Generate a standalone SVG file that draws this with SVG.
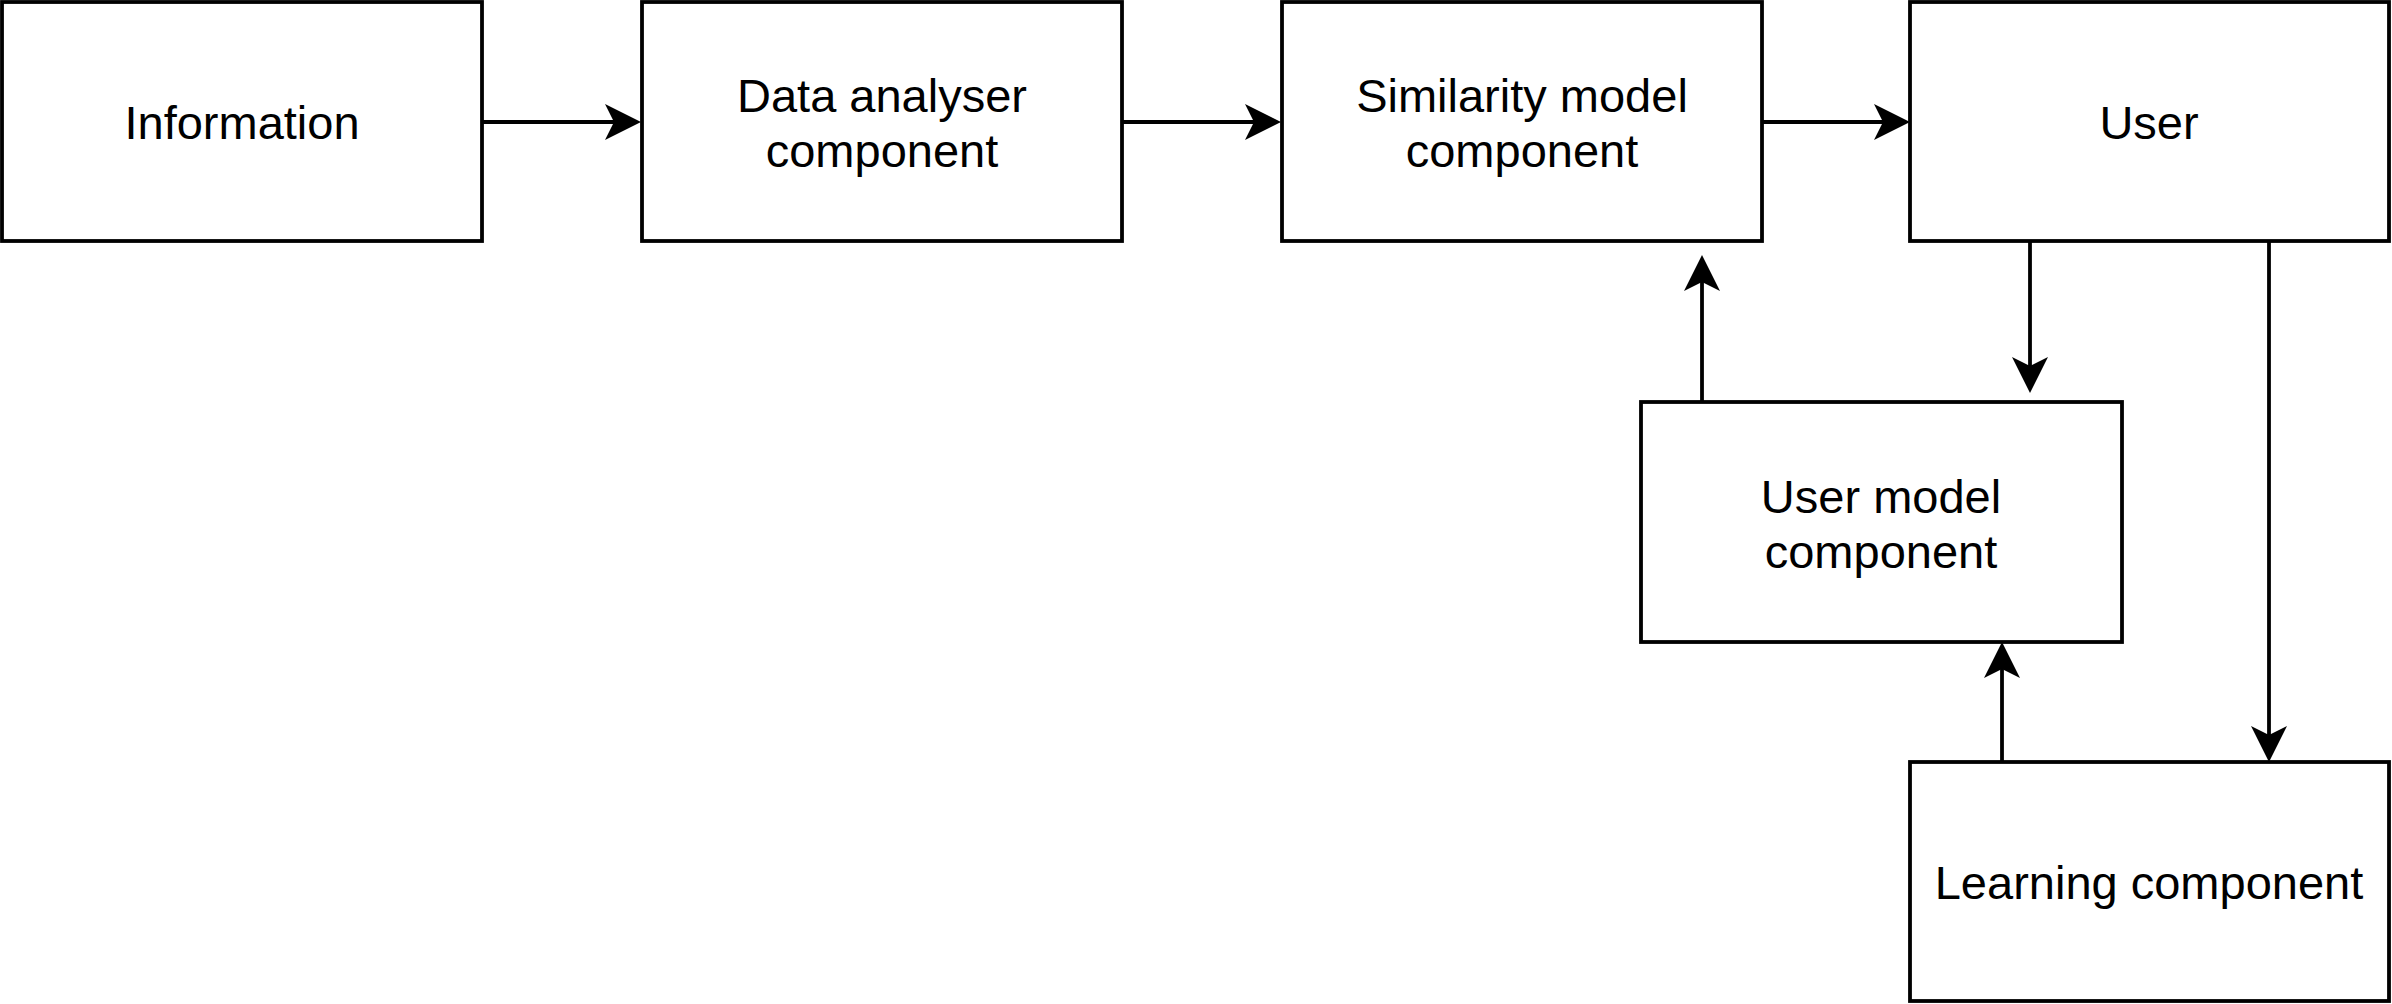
<svg xmlns="http://www.w3.org/2000/svg" width="2392" height="1004" viewBox="0 0 2392 1004">
<style>
.box{fill:#ffffff;stroke:#000000;stroke-width:3.8}
.lbl{font-family:"Liberation Sans",Arial,Helvetica,sans-serif;font-size:47px;fill:#000000;text-anchor:middle}
.edge{fill:none;stroke:#000000;stroke-width:3.8;marker-end:url(#arr)}
</style>
<defs>
<marker id="arr" markerUnits="userSpaceOnUse" markerWidth="36" markerHeight="36" refX="27" refY="18" orient="auto" viewBox="0 0 36 36">
<path d="M0,0 L36,18 L0,36 L9,18 Z" fill="#000000"/>
</marker>
</defs>
<rect width="2392" height="1004" fill="#ffffff"/>
<g id="information">
<rect class="box" x="2" y="2" width="480" height="239"/>
<text class="lbl" x="242" y="139">Information</text>
</g>
<g id="data-analyser">
<rect class="box" x="642" y="2" width="480" height="239"/>
<text class="lbl" x="882" y="112">Data analyser</text>
<text class="lbl" x="882" y="167">component</text>
</g>
<g id="similarity-model">
<rect class="box" x="1282" y="2" width="480" height="239"/>
<text class="lbl" x="1522" y="112">Similarity model</text>
<text class="lbl" x="1522" y="167">component</text>
</g>
<g id="user">
<rect class="box" x="1910" y="2" width="479" height="239"/>
<text class="lbl" x="2149" y="139">User</text>
</g>
<g id="user-model">
<rect class="box" x="1641" y="402" width="481" height="240"/>
<text class="lbl" x="1881" y="513">User model</text>
<text class="lbl" x="1881" y="568">component</text>
</g>
<g id="learning">
<rect class="box" x="1910" y="762" width="479" height="239"/>
<text class="lbl" x="2149" y="899">Learning component</text>
</g>
<g id="connectors">
<path class="edge" d="M482,122 H632"/>
<path class="edge" d="M1122,122 H1272"/>
<path class="edge" d="M1762,122 H1901"/>
<path class="edge" d="M2030,241 V384"/>
<path class="edge" d="M1702,402 V264"/>
<path class="edge" d="M2269,241 V753"/>
<path class="edge" d="M2002,762 V651"/>
</g>
</svg>
